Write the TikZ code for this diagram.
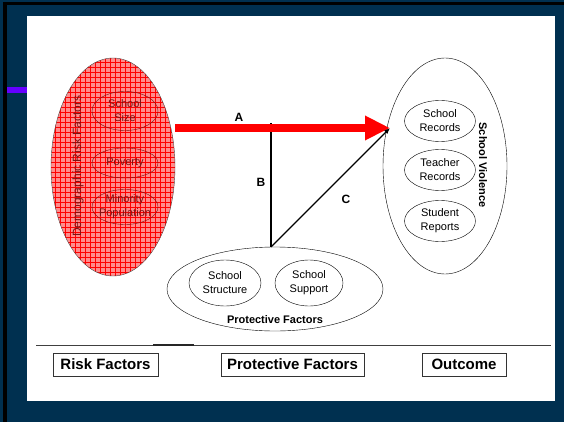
\documentclass[tikz,border=0pt]{standalone}
\usepackage{fontspec}
\setmainfont{Liberation Sans}
\usetikzlibrary{shapes.geometric,arrows.meta,patterns}
\definecolor{navy}{RGB}{0,48,80}
\definecolor{dimred}{RGB}{120,20,20}
\definecolor{riskred}{RGB}{255,140,140}
\definecolor{barviolet}{RGB}{102,0,255}
\pgfdeclarepatternformonly{riskgrid}{\pgfqpoint{-1pt}{-1pt}}{\pgfqpoint{6pt}{6pt}}{\pgfqpoint{5pt}{5pt}}{
	\pgfsetlinewidth{0.7pt}
	\pgfpathmoveto{\pgfqpoint{0pt}{0pt}}\pgfpathlineto{\pgfqpoint{5.1pt}{0pt}}
	\pgfpathmoveto{\pgfqpoint{0pt}{0pt}}\pgfpathlineto{\pgfqpoint{0pt}{5.1pt}}
	\pgfusepath{stroke}}
\tikzset{
	oval/.style={ellipse, draw, inner sep=0pt},
	small/.style={font=\fontsize{11}{14}\selectfont, align=center},
	tag/.style={draw=black!80, line width=1pt, minimum height=23pt,
		font=\fontsize{15}{18}\selectfont\bfseries},
}

\begin{document}
\begin{tikzpicture}[x=1pt, y=-1pt]
\useasboundingbox (0,0) rectangle (564,422);
\fill[navy] (0,0) rectangle (564,422);
\draw[line width=3.5pt] (5,422) -- (5,3.5) -- (564,3.5);
\fill[white] (27,16) rectangle (555,401);
\fill[barviolet] (7,87) rectangle (27,93);

% risk factors
\node[oval, draw=black!70, preaction={fill=riskred},
	pattern=riskgrid, pattern color=red,
	minimum width=124pt, minimum height=218pt] (risk) at (113,167) {};
\node[rotate=90, text=dimred, font=\fontsize{12}{14}\selectfont]
	(demo) at (78,166) {Demographic Risk Factors};
\foreach \y/\h/\t [count=\i] in {111/39/{School\\Size},
		163/30/{Poverty}, 207/35/{Minority\\Population}}
	\node[oval, draw=dimred, minimum width=66pt, minimum height=\h pt,
		label={[small, text=dimred]center:\t}] (in\i) at (125,\y) {};

% outcome
\node[oval, minimum width=124pt, minimum height=216pt] (violence) at (445,166) {};
\node[rotate=-90, font=\fontsize{11}{13}\selectfont\bfseries]
	(viol) at (483,165) {School Violence};
\foreach \y/\t [count=\i] in {121/{School\\Records},
		170/{Teacher\\Records}, 221/{Student\\Reports}}
	\node[oval, minimum width=71pt, minimum height=41pt,
		label={[small]center:\t}] (out\i) at (440,\y) {};

% protective factors
\node[oval, minimum width=216pt, minimum height=84pt] (protect) at (275,289) {};
\node[oval, minimum width=72pt, minimum height=46pt,
	label={[small]center:School\\Structure}] (struct) at (225,283) {};
\node[oval, minimum width=68pt, minimum height=46pt,
	label={[small]center:School\\Support}] (support) at (309,283) {};
\node[font=\fontsize{11}{13}\selectfont\bfseries] (prot) at (275,320) {Protective Factors};

% paths
\coordinate (hit) at (390,128);
\coordinate (top) at (271,123);
\coordinate (base) at (271,247);
\draw[line width=1.3pt] (top) -- (base);
\draw[red, line width=8pt, -{Triangle[length=25pt, width=23pt]}]
	(risk.east |- hit) -- (hit);
\draw[line width=1.3pt, -{Latex[length=6pt, width=5pt]}] (base) -- (hit);
\node[font=\fontsize{12}{14}\selectfont\bfseries] (a) at (239,117) {A};
\node[font=\fontsize{12}{14}\selectfont\bfseries] (b) at (261,182) {B};
\node[font=\fontsize{12}{14}\selectfont\bfseries] (c) at (346,199) {C};

% legend
\draw[black!75, line width=1pt] (36,345) -- (551,345);
\draw[black!85, line width=1.1pt] (153,345) -- (194,345);
\node[tag, minimum width=105pt] (risktag) at (105.5,364.5) {Risk Factors};
\node[tag, minimum width=143pt] (prottag) at (292.5,364.5) {Protective Factors};
\node[tag, minimum width=84pt] (outtag) at (464,364.5) {Outcome};
\end{tikzpicture}
\end{document}
